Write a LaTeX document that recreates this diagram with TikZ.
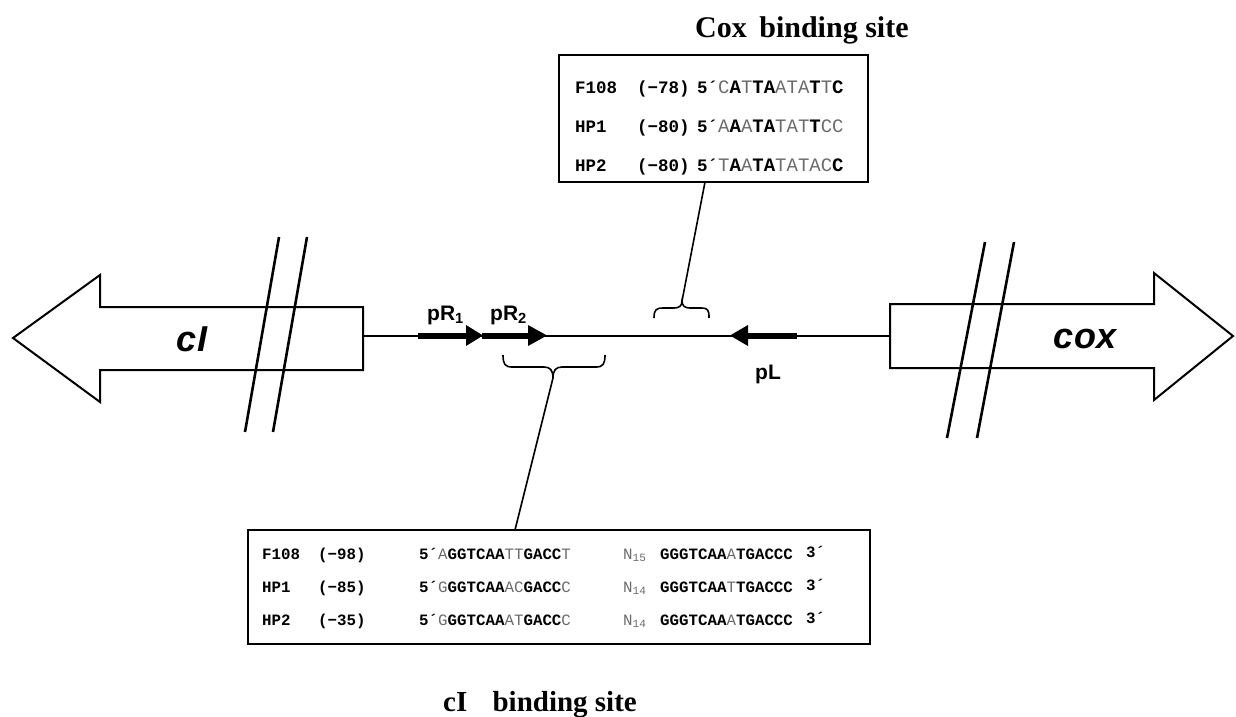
\documentclass[tikz,border=0pt]{standalone}
\usepackage{fontspec}
\setmainfont{Liberation Serif}
\newfontfamily\monof{Liberation Mono}
\newfontfamily\sansf{Liberation Sans}
\definecolor{seqgray}{gray}{0.42}
\newcommand\Bs[1]{{\bfseries\color{black}#1}}
\newcommand\Ls[1]{{\mdseries\color{seqgray}#1}}
\newcommand\Nsub[1]{{\mdseries\color{seqgray}N\textsubscript{#1}}}
\begin{document}
\begin{tikzpicture}[x=1pt,y=-1pt,
  outline/.style={draw=black, line width=2pt, line join=miter, fill=white},
  breakmark/.style={line width=2.6pt},
  dna/.style={line width=1.6pt},
  seqbox/.style={draw=black, line width=2.6pt, inner sep=0pt},
  toplbl/.style={font=\monof\bfseries\fontsize{17.5}{20}\selectfont, anchor=base west, inner sep=0pt},
  topseq/.style={font=\monof\mdseries\fontsize{19}{22}\selectfont, anchor=base west, inner sep=0pt},
  botlbl/.style={font=\monof\bfseries\fontsize{15.8}{18}\selectfont, anchor=base west, inner sep=0pt},
  botseq/.style={font=\monof\mdseries\fontsize{15.8}{18}\selectfont, anchor=base west, inner sep=0pt},
  titletext/.style={font=\bfseries\fontsize{30}{34}\selectfont, anchor=base west, inner sep=0pt},
  promlbl/.style={font=\sansf\bfseries\fontsize{21}{24}\selectfont, anchor=base west, inner sep=0pt},
  genelbl/.style={font=\sansf\bfseries\itshape\fontsize{36}{40}\selectfont, inner sep=0pt}]
\useasboundingbox (0,0) rectangle (1236,716);

% ---- cI gene arrow
\draw[outline] (13,338) -- (100,275) -- (100,307) -- (363,307) -- (363,370) -- (100,370) -- (100,402) -- cycle;
\node[genelbl] (cIlbl) at (192,339) {cI};
\draw[breakmark] (279,237) -- (245,432);
\draw[breakmark] (307,237) -- (273,432);

% ---- cox gene arrow
\draw[outline] (1233,336) -- (1154,273) -- (1154,304) -- (890,304) -- (890,368) -- (1154,368) -- (1154,400) -- cycle;
\node[genelbl] (coxlbl) at (1085,339) {cox};
\draw[breakmark] (985,242) -- (947,438);
\draw[breakmark] (1014,242) -- (977,438);

% ---- DNA line
\coordinate (cIend) at (363,336);
\coordinate (coxend) at (890,336);
\draw[dna] (cIend) -- (coxend);

% ---- promoters
\fill (418,332.5) rectangle (468,338.5);
\fill (466,325) -- (483,335.5) -- (466,346) -- cycle;
\fill (482,332.5) rectangle (530,338.5);
\fill (528,325) -- (547,335.5) -- (528,346) -- cycle;
\fill (797,332.5) rectangle (746,338.5);
\fill (748,325) -- (730,335.5) -- (748,346) -- cycle;
\node[promlbl] (pR1) at (427,320) {pR\textsubscript{1}};
\node[promlbl] (pR2) at (490,320) {pR\textsubscript{2}};
\node[promlbl] (pL) at (755,379) {pL};

% ---- braces
\coordinate (coxtip) at (682,301);
\draw[dna] (654,318) .. controls (654,310) and (656,308) .. (663,308) -- (674,308)
  .. controls (679,308) and (682,306) .. (coxtip)
  .. controls (682,306) and (685,308) .. (690,308) -- (701,308)
  .. controls (708,308) and (709,310) .. (709,318);
\coordinate (cItip) at (553,378);
\draw[dna] (503,355) .. controls (503,364) and (505,367) .. (512,367) -- (544,367)
  .. controls (550,367) and (553,370) .. (cItip)
  .. controls (553,370) and (556,367) .. (562,367) -- (596,367)
  .. controls (603,367) and (605,364) .. (605,355);

% ---- boxes
\node[seqbox, minimum width=309pt, minimum height=127pt] (coxbox) at (713.5,118.5) {};
\node[seqbox, minimum width=622pt, minimum height=114pt] (cIbox) at (559,587) {};
\coordinate (coxattach) at (705,182);
\coordinate (cIattach) at (515,530);
\draw[dna] (coxtip) -- (coxattach);
\draw[dna] (cItip) -- (cIattach);

% ---- titles
\node[titletext] (coxtitle) at (695,37) {Cox\hspace{5pt} binding site};
\node[titletext, font=\bfseries\fontsize{29}{33}\selectfont] (cItitle) at (443,711) {cI\hspace{18pt} binding site};

% ---- Cox box rows
\node[toplbl] (c1a) at (575,93) {F108};
\node[toplbl] (c1b) at (637,93) {(−78)};
\node[toplbl] (c1c) at (697,93) {5´};
\node[topseq] (c1d) at (718,93) {\Ls{C}\Bs{A}\Ls{T}\Bs{TA}\Ls{ATA}\Bs{T}\Ls{T}\Bs{C}};
\node[toplbl] (c2a) at (575,132) {HP1};
\node[toplbl] (c2b) at (637,132) {(−80)};
\node[toplbl] (c2c) at (697,132) {5´};
\node[topseq] (c2d) at (718,132) {\Ls{A}\Bs{A}\Ls{A}\Bs{TA}\Ls{TAT}\Bs{T}\Ls{CC}};
\node[toplbl] (c3a) at (575,171) {HP2};
\node[toplbl] (c3b) at (637,171) {(−80)};
\node[toplbl] (c3c) at (697,171) {5´};
\node[topseq] (c3d) at (718,171) {\Ls{T}\Bs{A}\Ls{A}\Bs{TA}\Ls{TATAC}\Bs{C}};

% ---- cI box rows
\node[botlbl] (b1a) at (262,559) {F108};
\node[botlbl] (b1b) at (318,559) {(−98)};
\node[botlbl] (b1c) at (419,559) {5´};
\node[botseq] (b1d) at (438,559) {\Ls{A}\Bs{GGTCAA}\Ls{TT}\Bs{GACC}\Ls{T}};
\node[botseq] (b1e) at (623,559) {\Nsub{15}};
\node[botseq] (b1f) at (660,559) {\Bs{GGGTCAA}\Ls{A}\Bs{TGACCC}};
\node[botlbl] (b1g) at (806,557) {3´};
\node[botlbl] (b2a) at (262,592) {HP1};
\node[botlbl] (b2b) at (318,592) {(−85)};
\node[botlbl] (b2c) at (419,592) {5´};
\node[botseq] (b2d) at (438,592) {\Ls{G}\Bs{GGTCAA}\Ls{AC}\Bs{GACC}\Ls{C}};
\node[botseq] (b2e) at (623,592) {\Nsub{14}};
\node[botseq] (b2f) at (660,592) {\Bs{GGGTCAA}\Ls{T}\Bs{TGACCC}};
\node[botlbl] (b2g) at (806,590) {3´};
\node[botlbl] (b3a) at (262,625) {HP2};
\node[botlbl] (b3b) at (318,625) {(−35)};
\node[botlbl] (b3c) at (419,625) {5´};
\node[botseq] (b3d) at (438,625) {\Ls{G}\Bs{GGTCAA}\Ls{AT}\Bs{GACC}\Ls{C}};
\node[botseq] (b3e) at (623,625) {\Nsub{14}};
\node[botseq] (b3f) at (660,625) {\Bs{GGGTCAA}\Ls{A}\Bs{TGACCC}};
\node[botlbl] (b3g) at (806,623) {3´};
\end{tikzpicture}
\end{document}
